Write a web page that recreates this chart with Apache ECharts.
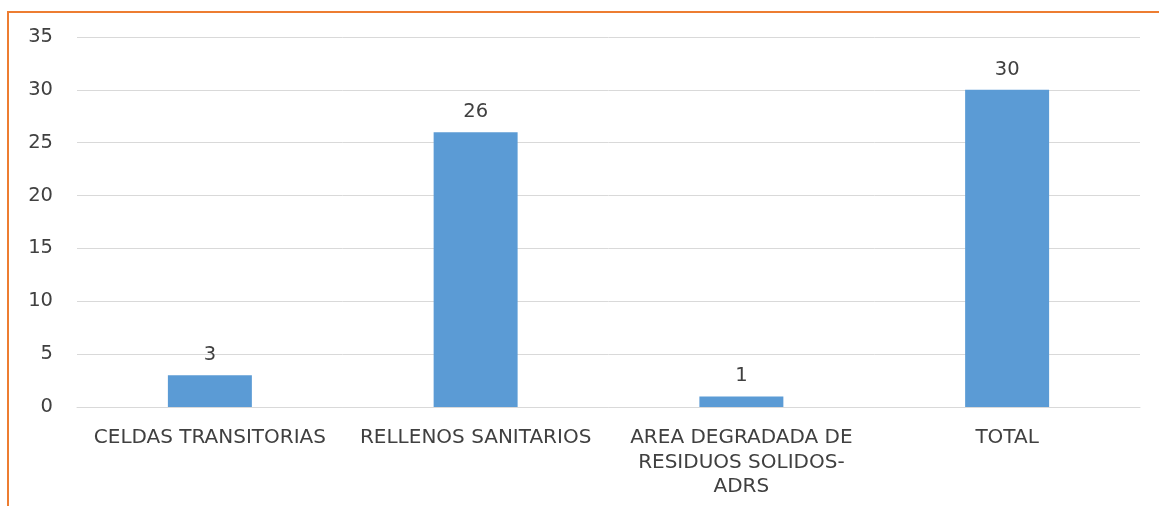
<!DOCTYPE html>
<html>
<head>
<meta charset="utf-8">
<script src="https://cdn.jsdelivr.net/npm/echarts@6/dist/echarts.min.js"></script>
<style>
  html, body { margin: 0; padding: 0; background: #fff; }
  #frame {
    position: absolute; left: 7px; top: 11px; width: 1200px; height: 600px;
    border-top: 2px solid #ED7D31; border-left: 2px solid #ED7D31;
  }
  #bar { position: absolute; left: 0; top: 0; width: 1159px; height: 506px; }
</style>
</head>
<body>
<div id="frame"></div>
<div id="bar"></div>
<script>
// categorías y valores
const categories = [
  'CELDAS TRANSITORIAS',
  'RELLENOS SANITARIOS',
  'AREA DEGRADADA DE\nRESIDUOS SOLIDOS-\nADRS',
  'TOTAL'
]
const values = [3, 26, 1, 30]

const font = '"DejaVu Sans", Verdana, sans-serif'

const myChart = echarts.init(document.querySelector('#bar'))

const option = {
  animation: false,
  grid: {
    left: 77,
    right: 19,
    top: 37,
    bottom: 99
  },
  xAxis: {
    type: 'category',
    data: categories,
    axisTick: { show: false },
    axisLine: {
      lineStyle: { color: '#d9d9d9', width: 1 }
    },
    axisLabel: {
      color: '#404040',
      fontFamily: font,
      fontSize: 20,
      lineHeight: 24.5,
      margin: 19,
      interval: 0
    }
  },
  yAxis: {
    type: 'value',
    min: 0,
    max: 35,
    interval: 5,
    axisLine: { show: false },
    axisTick: { show: false },
    axisLabel: {
      color: '#404040',
      fontFamily: font,
      fontSize: 19.5,
      margin: 24
    },
    splitLine: {
      lineStyle: { color: '#d9d9d9', width: 1 }
    }
  },
  series: [
    {
      type: 'bar',
      data: values,
      barWidth: '31.6%',
      itemStyle: { color: '#5B9BD5' },
      label: {
        show: true,
        position: 'top',
        distance: 10,
        color: '#404040',
        fontFamily: font,
        fontSize: 19.5
      }
    }
  ]
}

myChart.setOption(option)
</script>
</body>
</html>
